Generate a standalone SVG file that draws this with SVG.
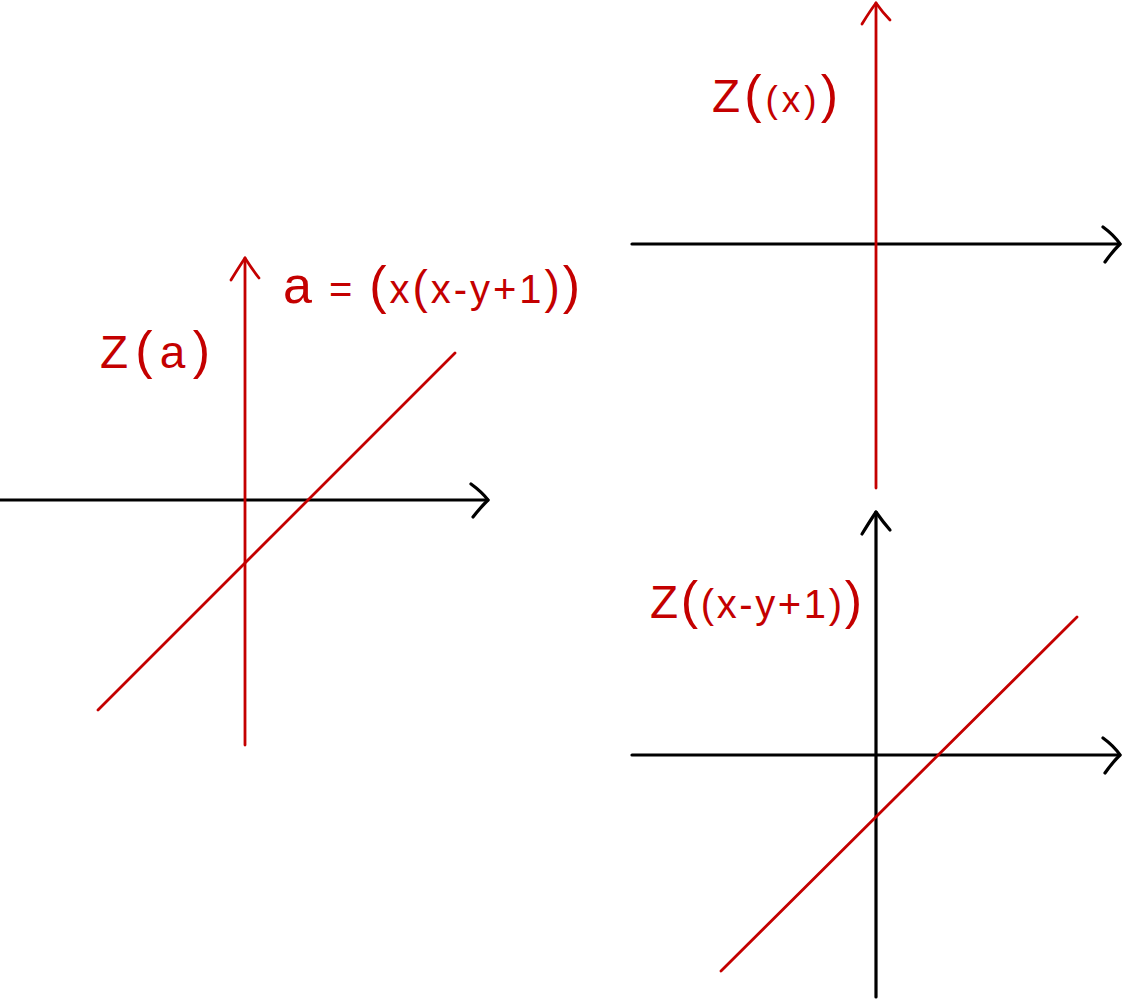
<svg xmlns="http://www.w3.org/2000/svg" width="1122" height="999" viewBox="0 0 1122 999">
<style>
.bk{stroke:#000;stroke-width:3.2;fill:none;stroke-linecap:round;stroke-linejoin:round}
.rd{stroke:#c40000;stroke-width:2.8;fill:none;stroke-linecap:round;stroke-linejoin:round}
.lbl{fill:#c40000;font-family:"Liberation Sans","DejaVu Sans",sans-serif;font-size:40px}
.big{font-size:52px}
.mid{font-size:46px}
</style>
<rect width="1122" height="999" fill="#fff"/>
<g id="connectors">
  <path class="bk" d="M0 500 H488"/>
  <path class="bk" d="M471 484 Q482 492 488 500 Q480 508 473 517"/>
  <path class="rd" d="M245 745 V258"/>
  <path class="rd" d="M231 280 Q239 267 245 258 Q252 269 259 278"/>
  <path class="rd" d="M98 710 L455 353"/>
  <path class="bk" d="M632 244 H1120"/>
  <path class="bk" d="M1103 227 Q1114 235 1120 244 Q1112 252 1105 262"/>
  <path class="rd" d="M876 488 V3"/>
  <path class="rd" d="M862 24 Q870 11 876 3 Q883 13 890 20"/>
  <path class="bk" d="M632 755 H1120"/>
  <path class="bk" d="M1103 738 Q1114 746 1120 755 Q1112 763 1105 773"/>
  <path class="bk" d="M876 997 V512"/>
  <path class="bk" d="M862 534 Q870 521 876 512 Q883 522 890 530"/>
  <path class="rd" d="M721 971 L1077 617"/>
</g>
<g id="label-za"><text class="lbl" x="100" y="368" textLength="110" lengthAdjust="spacing"><tspan class="mid">Z</tspan><tspan class="big">(</tspan><tspan class="mid">a</tspan><tspan class="big">)</tspan></text></g>
<g id="label-a"><text class="lbl" x="283" y="303" textLength="297" lengthAdjust="spacing"><tspan class="big">a</tspan> = <tspan class="big">(</tspan>x<tspan class="mid">(</tspan>x-y+1<tspan class="mid">)</tspan><tspan class="big">)</tspan></text></g>
<g id="label-zx"><text class="lbl" x="712" y="112" textLength="126" lengthAdjust="spacing"><tspan class="mid">Z</tspan><tspan class="big">(</tspan><tspan font-size="37">(x)</tspan><tspan class="big">)</tspan></text></g>
<g id="label-zxy"><text class="lbl" x="650" y="618" textLength="212" lengthAdjust="spacing"><tspan class="mid">Z</tspan><tspan class="big">(</tspan>(x-y+1)<tspan class="big">)</tspan></text></g>
</svg>
